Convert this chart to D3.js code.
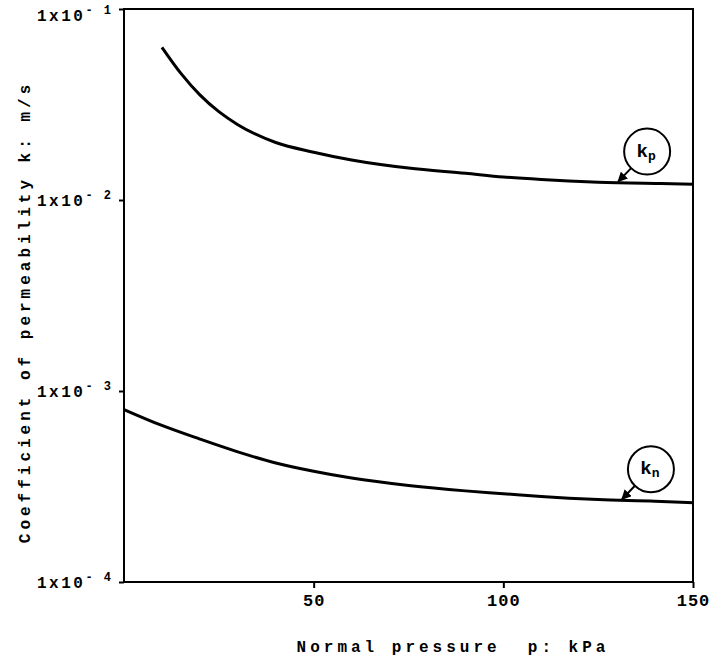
<!DOCTYPE html>
<html><head><meta charset="utf-8">
<script src="https://cdn.jsdelivr.net/npm/d3@7"></script>
<style>body{margin:0;background:#fff}svg{display:block}text{font-family:"Liberation Mono","DejaVu Sans Mono",monospace;fill:#000}</style>
</head><body>
<script>
const xTicks = [50, 100, 150];
const yTickExps = [-1, -2, -3, -4];
const kpPressure = [10, 15, 20, 25, 30, 40, 50, 60, 75, 90, 100, 110, 125, 140, 150];
const kpValues = [0.063, 0.046, 0.0355, 0.0290, 0.0248, 0.0200, 0.0178, 0.0162, 0.0147, 0.0138, 0.0132, 0.0128, 0.0124, 0.0122, 0.0121];
const knPressure = [0, 10, 20, 30, 40, 50, 60, 75, 90, 100, 110, 125, 140, 150];
const knValues = [0.00080, 0.00066, 0.00056, 0.00048, 0.00042, 0.00038, 0.00035, 0.00032, 0.00030, 0.00029, 0.00028, 0.00027, 0.000265, 0.00026];
const labels = [{name:"k", sub:"p", at:130, series:"kp"}, {name:"k", sub:"n", at:131, series:"kn"}];

const W = 711, H = 658;
const L = 124, R = 693, T = 9, B = 582;
const svg = d3.select("body").append("svg").attr("width", W).attr("height", H);
const x = d3.scaleLinear().domain([0, 150]).range([L, R]);
const y = d3.scaleLog().domain([1e-4, 1e-1]).range([B, T]);

// frame
svg.append("rect").attr("x", L).attr("y", T).attr("width", R - L).attr("height", B - T)
  .attr("fill", "none").attr("stroke", "#000").attr("stroke-width", 2);

// x axis
const xa = svg.append("g").attr("transform", `translate(0,${B})`)
  .call(d3.axisBottom(x).tickValues(xTicks).tickSize(6).tickFormat(d3.format("d")));
xa.select(".domain").remove();
xa.selectAll("line").attr("stroke-width", 2);
xa.selectAll("text").attr("font-size", 17).attr("font-weight", "bold").attr("dy", "0.9em").style("letter-spacing", "1px");

// y axis
const ya = svg.append("g").attr("transform", `translate(${L},0)`)
  .call(d3.axisLeft(y).tickValues(yTickExps.map(e => Math.pow(10, e))).tickSize(5).tickFormat(""));
ya.select(".domain").remove();
ya.selectAll("line").attr("stroke-width", 2);
yTickExps.forEach(e => {
  const ty = Math.max(y(Math.pow(10, e)) + 6, 21);
  const t = svg.append("text").attr("x", 37).attr("y", ty)
    .attr("font-size", 16).attr("font-weight", "bold").style("letter-spacing", "2.5px");
  t.append("tspan").text("1x10");
  t.append("tspan").attr("dy", -7).attr("font-size", 12).style("letter-spacing", "2px").text("- " + Math.abs(e));
});

// curves
const line = d3.line().x(d => x(d[0])).y(d => y(d[1])).curve(d3.curveMonotoneX);
svg.append("path").datum(d3.zip(kpPressure, kpValues)).attr("d", line)
  .attr("fill", "none").attr("stroke", "#000").attr("stroke-width", 3);
svg.append("path").datum(d3.zip(knPressure, knValues)).attr("d", line)
  .attr("fill", "none").attr("stroke", "#000").attr("stroke-width", 3);

// callouts
const interp = (ps, vs, p) => { const i = d3.bisectLeft(ps, p); const t = (p - ps[i-1])/(ps[i]-ps[i-1]); return Math.exp(Math.log(vs[i-1]) + t*(Math.log(vs[i]) - Math.log(vs[i-1]))); };
svg.append("defs").append("marker").attr("id", "ah").attr("viewBox", "0 0 10 10").attr("refX", 9).attr("refY", 5)
  .attr("markerWidth", 5).attr("markerHeight", 5).attr("orient", "auto")
  .append("path").attr("d", "M0,0L10,5L0,10z").attr("fill", "#000");
labels.forEach(lb => {
  const ps = lb.series === "kp" ? kpPressure : knPressure;
  const vs = lb.series === "kp" ? kpValues : knValues;
  const tx = x(lb.at), ty = y(interp(ps, vs, lb.at));
  const cx = tx + 30, cy = ty - 31, r = 23;
  svg.append("circle").attr("cx", cx).attr("cy", cy).attr("r", r).attr("fill", "#fff").attr("stroke", "#000").attr("stroke-width", 2);
  const ang = Math.atan2(ty - cy, tx - cx);
  svg.append("line").attr("x1", cx + r*Math.cos(ang)).attr("y1", cy + r*Math.sin(ang)).attr("x2", tx + 1).attr("y2", ty - 1)
    .attr("stroke", "#000").attr("stroke-width", 2).attr("marker-end", "url(#ah)");
  const t = svg.append("text").attr("x", cx - 1).attr("y", cy + 5).attr("text-anchor", "middle").attr("font-family", "Liberation Serif, serif").attr("font-size", 19).attr("font-weight", "bold");
  t.append("tspan").text(lb.name);
  t.append("tspan").attr("dy", 3).attr("font-size", 13).text(lb.sub);
});

// axis titles
svg.append("text").attr("x", 453).attr("y", 652).attr("text-anchor", "middle").attr("font-size", 16).attr("font-weight", "bold")
  .style("letter-spacing", "4px").attr("xml:space", "preserve").text("Normal pressure  p: kPa");
svg.append("text").attr("transform", `translate(30,${312}) rotate(-90)`).attr("text-anchor", "middle").attr("font-size", 16).attr("font-weight", "bold")
  .style("letter-spacing", "4px").text("Coefficient of permeability k: m/s");
</script>
</body></html>
